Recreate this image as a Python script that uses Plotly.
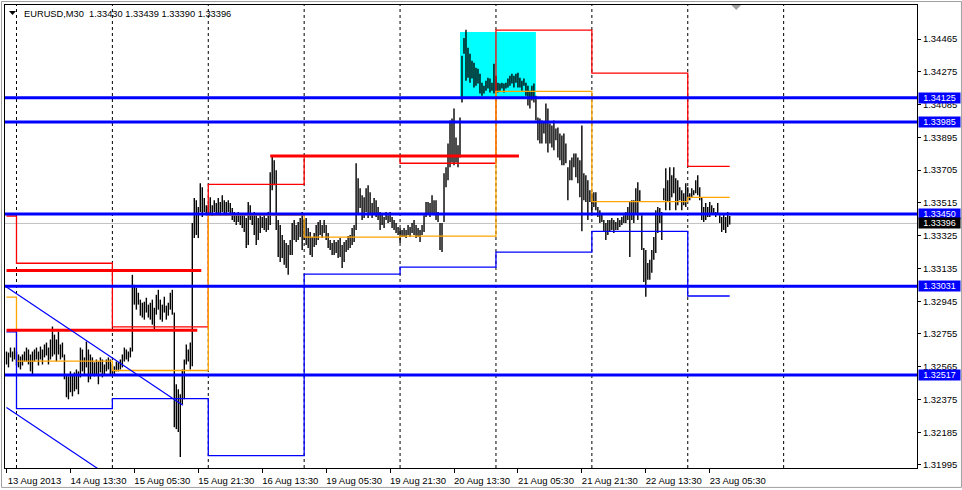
import plotly.graph_objects as go

# ---------------- data ----------------
highs = [
 1.32653,1.32647,1.32676,1.32653,1.32676,1.32653,1.32636,1.32624,1.32636,1.32653,
 1.32676,1.32665,1.32636,1.32653,1.32665,1.32676,1.32653,1.32682,1.32665,1.32694,
 1.32705,1.32676,1.32723,1.32798,1.32751,1.32723,1.32769,1.32694,1.32705,1.32636,
 1.32520,1.32509,1.32538,1.32515,1.32532,1.32549,1.32538,1.32676,1.32665,1.32619,
 1.32711,1.32665,1.32636,1.32619,1.32590,1.32607,1.32595,1.32619,1.32607,1.32578,
 1.32607,1.32619,1.32607,1.32578,1.32567,1.32595,1.32590,1.32607,1.32636,1.32676,
 1.32665,1.32653,1.32676,1.33098,1.33040,1.33023,1.32994,1.32954,1.32936,1.32942,
 1.32965,1.32925,1.32936,1.32954,1.32907,1.32982,1.33011,1.32954,1.32925,1.32971,
 1.32919,1.32936,1.32994,1.33011,1.32879,1.32463,1.32434,1.32405,1.32549,1.32607,
 1.32694,1.32665,1.32705,1.33398,1.33543,1.33531,1.33491,1.33629,1.33606,1.33543,
 1.33502,1.33502,1.33548,1.33502,1.33531,1.33514,1.33543,1.33520,1.33560,1.33531,
 1.33520,1.33531,1.33514,1.33485,1.33462,1.33456,1.33462,1.33444,1.33456,1.33444,
 1.33427,1.33520,1.33502,1.33456,1.33462,1.33444,1.33427,1.33456,1.33433,1.33450,
 1.33427,1.33462,1.33693,1.33791,1.33762,1.33704,1.33416,1.33387,1.33329,1.33300,
 1.33283,1.33271,1.33300,1.33398,1.33416,1.33387,1.33404,1.33427,1.33462,1.33416,
 1.33427,1.33369,1.33346,1.33317,1.33340,1.33387,1.33404,1.33416,1.33387,1.33416,
 1.33387,1.33340,1.33300,1.33283,1.33300,1.33288,1.33300,1.33312,1.33271,1.33288,
 1.33300,1.33323,1.33329,1.33369,1.33387,1.33745,1.33658,1.33600,1.33560,1.33548,
 1.33600,1.33618,1.33577,1.33514,1.33543,1.33531,1.33491,1.33462,1.33456,1.33433,
 1.33462,1.33444,1.33462,1.33433,1.33416,1.33398,1.33375,1.33369,1.33358,1.33369,
 1.33358,1.33387,1.33375,1.33398,1.33416,1.33387,1.33369,1.33358,1.33387,1.33444,
 1.33520,1.33520,1.33514,1.33560,1.33531,1.33531,1.33462,1.33398,1.33398,1.33687,
 1.33722,1.33860,1.33993,1.34005,1.34062,1.33895,1.33849,1.34010,1.34368,1.34472,
 1.34519,1.34415,1.34380,1.34340,1.34328,1.34299,1.34293,1.34264,1.34212,1.34195,
 1.34224,1.34241,1.34236,1.34212,1.34322,1.34253,1.34212,1.34207,1.34212,1.34207,
 1.34212,1.34236,1.34253,1.34264,1.34253,1.34264,1.34270,1.34241,1.34224,1.34236,
 1.34212,1.34195,1.34166,1.34195,1.34207,1.34137,1.34010,1.34005,1.33993,1.33982,
 1.34091,1.34062,1.33976,1.33964,1.33993,1.33947,1.33953,1.33918,1.33906,1.33918,
 1.33860,1.33722,1.33762,1.33779,1.33802,1.33802,1.33779,1.33762,1.33964,1.33687,
 1.33675,1.33647,1.33589,1.33571,1.33577,1.33577,1.33491,1.33473,1.33456,1.33416,
 1.33398,1.33416,1.33416,1.33427,1.33416,1.33404,1.33427,1.33416,1.33433,1.33444,
 1.33462,1.33491,1.33520,1.33531,1.33531,1.33600,1.33635,1.33589,1.33444,1.33254,
 1.33242,1.33167,1.33185,1.33242,1.33317,1.33473,1.33491,1.33485,1.33462,1.33600,
 1.33716,1.33647,1.33722,1.33675,1.33722,1.33658,1.33647,1.33606,1.33589,1.33571,
 1.33629,1.33606,1.33571,1.33600,1.33589,1.33647,1.33675,1.33606,1.33548,1.33491,
 1.33514,1.33491,1.33520,1.33502,1.33485,1.33462,1.33514,1.33444,1.33433,1.33456,
 1.33433,1.33462,1.33439,
]

lows = [
 1.32578,1.32561,1.32619,1.32595,1.32607,1.32572,1.32561,1.32549,1.32572,1.32595,
 1.32595,1.32578,1.32538,1.32520,1.32595,1.32607,1.32572,1.32607,1.32578,1.32619,
 1.32630,1.32578,1.32607,1.32624,1.32636,1.32595,1.32636,1.32607,1.32619,1.32492,
 1.32388,1.32376,1.32417,1.32393,1.32422,1.32434,1.32405,1.32503,1.32538,1.32520,
 1.32561,1.32474,1.32492,1.32520,1.32509,1.32520,1.32463,1.32532,1.32503,1.32520,
 1.32538,1.32549,1.32515,1.32520,1.32520,1.32538,1.32538,1.32549,1.32561,1.32595,
 1.32607,1.32595,1.32619,1.32653,1.32925,1.32896,1.32925,1.32861,1.32850,1.32838,
 1.32879,1.32850,1.32838,1.32809,1.32780,1.32867,1.32896,1.32838,1.32826,1.32879,
 1.32838,1.32861,1.32896,1.32867,1.32214,1.32203,1.32186,1.32041,1.32347,1.32376,
 1.32578,1.32595,1.32549,1.32567,1.33312,1.33329,1.33312,1.33462,1.33433,1.33462,
 1.33444,1.33444,1.33456,1.33439,1.33462,1.33450,1.33456,1.33444,1.33462,1.33456,
 1.33444,1.33462,1.33456,1.33416,1.33404,1.33387,1.33404,1.33387,1.33369,1.33346,
 1.33254,1.33271,1.33416,1.33387,1.33329,1.33271,1.33300,1.33340,1.33369,1.33358,
 1.33346,1.33358,1.33387,1.33589,1.33618,1.33358,1.33202,1.33173,1.33196,1.33156,
 1.33138,1.33098,1.33213,1.33213,1.33300,1.33288,1.33300,1.33317,1.33242,1.33300,
 1.33271,1.33254,1.33213,1.33202,1.33260,1.33271,1.33300,1.33329,1.33312,1.33340,
 1.33300,1.33254,1.33242,1.33213,1.33213,1.33225,1.33196,1.33202,1.33138,1.33173,
 1.33231,1.33242,1.33254,1.33271,1.33288,1.33358,1.33456,1.33485,1.33416,1.33427,
 1.33462,1.33427,1.33444,1.33427,1.33444,1.33433,1.33416,1.33358,1.33387,1.33369,
 1.33416,1.33398,1.33404,1.33369,1.33358,1.33340,1.33329,1.33283,1.33317,1.33317,
 1.33312,1.33329,1.33317,1.33340,1.33329,1.33312,1.33317,1.33288,1.33329,1.33346,
 1.33433,1.33456,1.33433,1.33456,1.33444,1.33416,1.33404,1.33242,1.33231,1.33404,
 1.33606,1.33647,1.33722,1.33750,1.33733,1.33750,1.33722,1.33779,1.34097,1.34380,
 1.34224,1.34241,1.34212,1.34236,1.34184,1.34195,1.34207,1.34149,1.34137,1.34149,
 1.34166,1.34178,1.34155,1.34166,1.34149,1.34166,1.34155,1.34166,1.34178,1.34155,
 1.34178,1.34184,1.34195,1.34207,1.34184,1.34212,1.34184,1.34184,1.34166,1.34195,
 1.34137,1.34080,1.34062,1.34109,1.34097,1.33993,1.33878,1.33860,1.33860,1.33918,
 1.33860,1.33808,1.33860,1.33837,1.33820,1.33878,1.33779,1.33762,1.33733,1.33733,
 1.33745,1.33531,1.33647,1.33647,1.33722,1.33664,1.33629,1.33548,1.33350,1.33531,
 1.33520,1.33416,1.33520,1.33456,1.33491,1.33473,1.33433,1.33398,1.33404,1.33346,
 1.33300,1.33329,1.33346,1.33358,1.33340,1.33358,1.33358,1.33375,1.33387,1.33398,
 1.33398,1.33416,1.33202,1.33416,1.33398,1.33456,1.33416,1.33520,1.33242,1.33057,
 1.32971,1.33069,1.33069,1.33110,1.33185,1.33225,1.33340,1.33398,1.33300,1.33531,
 1.33473,1.33520,1.33473,1.33548,1.33571,1.33473,1.33502,1.33531,1.33473,1.33502,
 1.33491,1.33531,1.33531,1.33548,1.33560,1.33571,1.33560,1.33531,1.33416,1.33404,
 1.33416,1.33433,1.33433,1.33456,1.33456,1.33433,1.33456,1.33398,1.33346,1.33358,
 1.33340,1.33375,1.33390,
]

# x-axis (bar index) tick positions and labels
tick_idx = [0, 32, 64, 96, 128, 160, 192, 224, 256, 288, 320, 352]
tick_text = ["13 Aug 2013", "14 Aug 13:30", "15 Aug 05:30", "15 Aug 21:30",
             "16 Aug 13:30", "19 Aug 05:30", "19 Aug 21:30", "20 Aug 13:30",
             "21 Aug 05:30", "21 Aug 21:30", "22 Aug 13:30", "23 Aug 05:30"]

# price axis ticks
price_ticks = [1.34465, 1.34275, 1.34085, 1.33895, 1.33705, 1.33515, 1.33325,
               1.33135, 1.32945, 1.32755, 1.32565, 1.32375, 1.32185, 1.31995]

# previous-day high / close / low indicator (one value per day)
day_start = [0, 5, 53, 101, 149, 197, 245, 293, 341]
last_bar = 362
prev_high = [1.33439, 1.33165, 1.32796, 1.33623, 1.33787, 1.33745, 1.34517, 1.34268, 1.33727]
prev_close = [1.32969, 1.32597, 1.32543, 1.33444, 1.33316, 1.33322, 1.34162, 1.33523, 1.33547]
prev_low = [1.32767, 1.32322, 1.32380, 1.32049, 1.33102, 1.33142, 1.33229, 1.33350, 1.32975]

# day separators (bar index)
separators = [5, 53, 101, 149, 197, 245, 293, 341, 389]

# horizontal blue levels and last price
blue_levels = [1.34125, 1.33985, 1.33450, 1.33031, 1.32517]
last_price = 1.33396

# thick red horizontal segments
red_x0 = [0, 0, 132]
red_x1 = [97.5, 95.5, 256.5]
red_price = [1.33123, 1.32776, 1.33787]

# blue trend lines
trend1_x = [0, 88.3]
trend1_y = [1.33027, 1.32341]
trend2_x = [0, 60]
trend2_y = [1.32328, 1.31863]

# cyan rectangle
box_x = [227, 265]
box_y = [1.34125, 1.34507]

header = "EURUSD,M30\u00a0\u00a01.33430 1.33439 1.33390 1.33396"

# ---------------- figure ----------------
FONT = "Liberation Sans, Arial, sans-serif"
fig = go.Figure()

# price bars
bx, by = [], []
for i, (h, l) in enumerate(zip(highs, lows)):
    bx += [i, i, None]
    by += [l, h, None]
fig.add_trace(go.Scatter(x=bx, y=by, mode="lines", line=dict(color="black", width=1.4),
                         hoverinfo="skip"))

# indicator step lines
step_x = day_start + [last_bar]
for vals, col in [(prev_high, "#FF0000"), (prev_close, "#FFA500"), (prev_low, "#0000FF")]:
    fig.add_trace(go.Scatter(x=step_x, y=vals + [vals[-1]], mode="lines",
                             line=dict(color=col, width=1.3, shape="hv"), hoverinfo="skip"))

# thick red segments
for x0, x1, p in zip(red_x0, red_x1, red_price):
    fig.add_trace(go.Scatter(x=[x0, x1], y=[p, p], mode="lines",
                             line=dict(color="#FF0000", width=3), hoverinfo="skip"))

# trend lines
for tx, ty in [(trend1_x, trend1_y), (trend2_x, trend2_y)]:
    fig.add_trace(go.Scatter(x=tx, y=ty, mode="lines",
                             line=dict(color="#0000FF", width=1.2), hoverinfo="skip"))

shapes = []
shapes.append(dict(type="rect", xref="x", yref="y", x0=box_x[0], x1=box_x[1],
                   y0=box_y[0], y1=box_y[1], fillcolor="#00FFFF",
                   line=dict(width=0), layer="below"))
for s in separators:
    shapes.append(dict(type="line", xref="x", yref="paper", x0=s, x1=s, y0=0, y1=1,
                       line=dict(color="black", width=1, dash="3px,3px"), layer="below"))
shapes.append(dict(type="line", xref="paper", yref="y", x0=0, x1=1, y0=last_price,
                   y1=last_price, line=dict(color="#C0C0C0", width=1), layer="below"))
for lv in blue_levels:
    shapes.append(dict(type="line", xref="paper", yref="y", x0=0, x1=1, y0=lv, y1=lv,
                       line=dict(color="#0000FF", width=3), layer="above"))
# outer window frame
shapes.append(dict(type="rect", xref="paper", yref="paper", x0=-0.003834, x1=1.04874,
                   y0=-0.041935, y1=1.007527, line=dict(color="#A0A0A0", width=1),
                   layer="below"))
# small header triangle and chart-shift marker
shapes.append(dict(type="path", xref="paper", yref="paper",
                   path="M 0.00438 0.9871 L 0.01205 0.9871 L 0.00821 0.9785 Z",
                   fillcolor="black", line=dict(width=0)))
shapes.append(dict(type="path", xref="paper", yref="paper",
                   path="M 0.7963 1.0 L 0.8072 1.0 L 0.8018 0.9892 Z",
                   fillcolor="#A0A0A0", line=dict(width=0)))

annotations = []
for lv in blue_levels:
    annotations.append(dict(xref="paper", yref="y", x=1, y=lv, xanchor="left", xshift=1,
                            text=f"{lv:.5f}", showarrow=False, bgcolor="#0000FF",
                            font=dict(color="white", size=9, family=FONT),
                            width=41, align="center", borderpad=0))
annotations.append(dict(xref="paper", yref="y", x=1, y=last_price, xanchor="left", xshift=1,
                        text=f"{last_price:.5f}", showarrow=False, bgcolor="black",
                        font=dict(color="white", size=9, family=FONT),
                        width=41, align="center", borderpad=0))
annotations.append(dict(xref="paper", yref="paper", x=0.0183, y=0.9813, xanchor="left",
                        yanchor="middle", text=header, showarrow=False,
                        font=dict(color="black", size=9.3, family=FONT)))

fig.update_layout(
    width=962, height=490,
    margin=dict(l=4, r=45, t=4, b=21, pad=0),
    paper_bgcolor="white", plot_bgcolor="white",
    showlegend=False,
    font=dict(family=FONT, size=9, color="black"),
    shapes=shapes, annotations=annotations,
    xaxis=dict(range=[-0.75, 455.75], showgrid=False, zeroline=False,
               showline=True, linecolor="black", linewidth=1, mirror=True,
               ticks="outside", ticklen=4, tickcolor="black",
               tickvals=tick_idx, ticktext=tick_text, ticklabelshift=28,
               tickfont=dict(size=9.5, family=FONT, color="black"), fixedrange=True),
    yaxis=dict(range=[1.319775, 1.346629], side="right", showgrid=False, zeroline=False,
               showline=True, linecolor="black", linewidth=1, mirror=True,
               ticks="outside", ticklen=3, tickcolor="black",
               tickvals=price_ticks, ticktext=[f"{p:.5f}" for p in price_ticks],
               tickfont=dict(size=9.5, family=FONT, color="black"), fixedrange=True),
)

fig.write_html("out.html", config={"displayModeBar": False},
               post_script="document.body.style.margin='0px';document.body.style.overflow='hidden';")
